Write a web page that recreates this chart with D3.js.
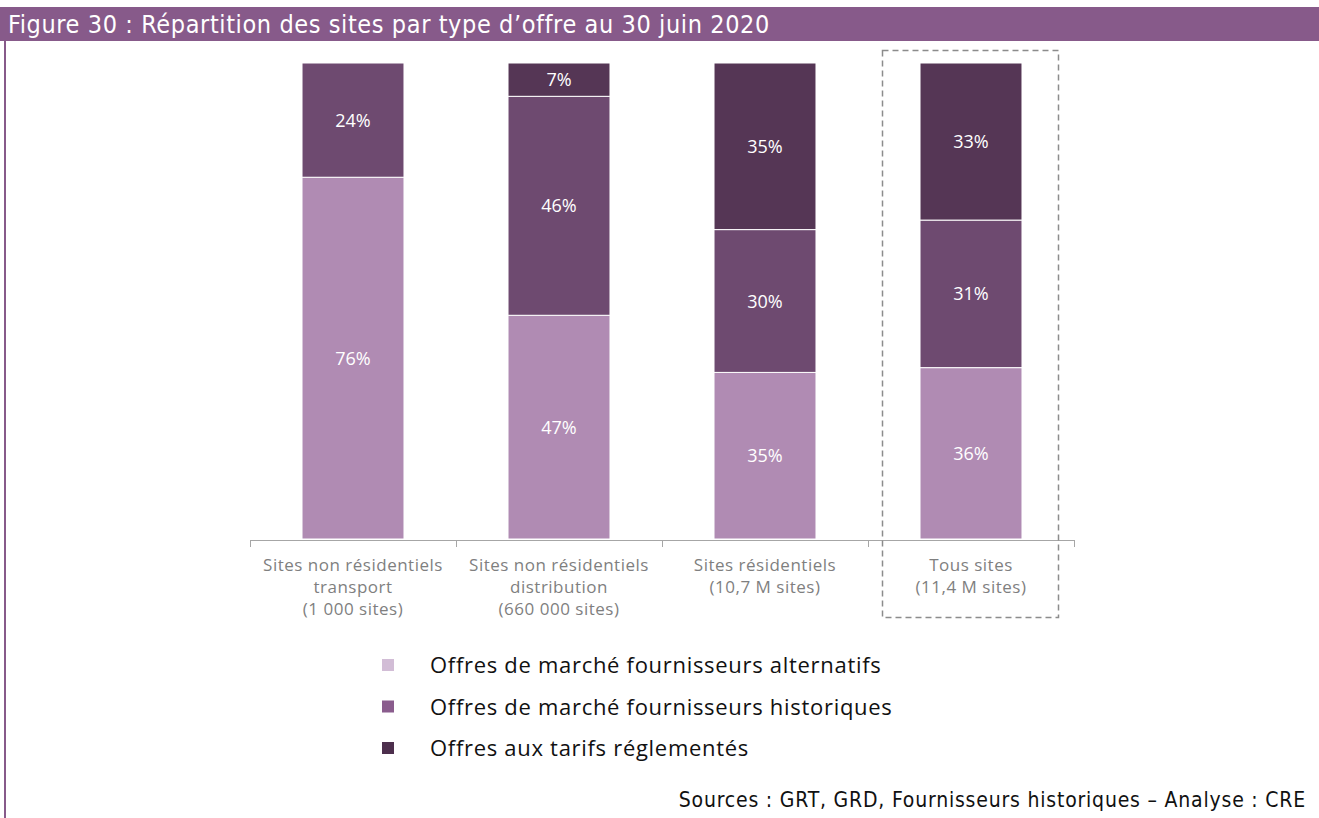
<!DOCTYPE html>
<html><head><meta charset="utf-8">
<script src="https://cdn.jsdelivr.net/npm/d3@7"></script>
<style>body{margin:0;background:#fff}svg{display:block}</style>
</head><body>
<script>
const title = "Figure 30 : Répartition des sites par type d’offre au 30 juin 2020";
const categories = [
  ["Sites non résidentiels","transport","(1 000 sites)"],
  ["Sites non résidentiels","distribution","(660 000 sites)"],
  ["Sites résidentiels","(10,7 M sites)"],
  ["Tous sites","(11,4 M sites)"]
];
const seriesNames = ["Offres de marché fournisseurs alternatifs","Offres de marché fournisseurs historiques","Offres aux tarifs réglementés"];
const alternatifs = [76, 47, 35, 36];
const historiques = [24, 46, 30, 31];
const reglementes = [0, 7, 35, 33];
const source = "Sources : GRT, GRD, Fournisseurs historiques – Analyse : CRE";

const barColors = ["#b08bb3","#6e4a70","#553655"];
const legendColors = ["#d2bdd6","#8a5c8d","#4d2f4d"];
const condensed = "'DejaVu Sans Condensed','DejaVu Sans',sans-serif";
const body = "'Open Sans',sans-serif";

const W=1319,H=818;
const svg=d3.select("body").append("svg").attr("width",W).attr("height",H);
svg.append("rect").attr("x",0).attr("y",7).attr("width",W).attr("height",34).attr("fill","#875a8a");
svg.append("text").attr("x",8).attr("y",33).attr("fill","#fff")
  .style("font-family",condensed).style("font-stretch","condensed").style("font-size","25px")
  .style("letter-spacing","0.6px").text(title);
svg.append("rect").attr("x",4).attr("y",41).attr("width",2).attr("height",H-41).attr("fill","#875a8a");

const x=d3.scaleBand().domain(d3.range(categories.length)).range([250,1074]).paddingInner(0.505).paddingOuter(0.2525);
const y=d3.scaleLinear().domain([0,100]).range([539,63]);

const data=categories.map((c,i)=>({i,alt:alternatifs[i],his:historiques[i],reg:reglementes[i]}));
const stack=d3.stack().keys(["alt","his","reg"])(data);

stack.forEach((s,k)=>{
  svg.append("g").selectAll("rect").data(s).join("rect")
    .attr("x",d=>x(d.data.i)).attr("width",x.bandwidth())
    .attr("y",d=>y(d[1])).attr("height",d=>Math.max(0,y(d[0])-y(d[1])))
    .attr("fill",barColors[k]).attr("stroke",d=>d[1]-d[0]>0?"#fff":"none").attr("stroke-width",1);
  svg.append("g").selectAll("text").data(s.filter(d=>d[1]-d[0]>0)).join("text")
    .attr("x",d=>x(d.data.i)+x.bandwidth()/2).attr("y",d=>(y(d[0])+y(d[1]))/2+6.5)
    .attr("text-anchor","middle").attr("fill","#fff")
    .style("font-family",body).style("font-size","18px")
    .text(d=>(d[1]-d[0])+"%");
});

// axis
const ax=svg.append("g");
ax.append("line").attr("x1",250).attr("x2",1074).attr("y1",540.5).attr("y2",540.5).attr("stroke","#a6a6a6");
const step=x.step();
d3.range(categories.length+1).forEach(i=>{
  const tx=Math.round(250+i*step)+0.5;
  ax.append("line").attr("x1",tx).attr("x2",tx).attr("y1",540).attr("y2",547).attr("stroke","#a6a6a6");
});
categories.forEach((c,i)=>{
  const t=svg.append("text").attr("text-anchor","middle")
    .style("font-family",body).style("font-size","17px").style("letter-spacing","0.5px").attr("fill","#7f7f7f");
  c.forEach((line,j)=>t.append("tspan").attr("x",x(i)+x.bandwidth()/2).attr("y",571+j*22).text(line));
});

// dashed box
svg.append("rect").attr("x",882.5).attr("y",50.5).attr("width",176).attr("height",567)
  .attr("fill","none").attr("stroke","#8c8c8c").attr("stroke-width",1.5).attr("stroke-dasharray","6,4");

// legend
seriesNames.forEach((n,i)=>{
  const ly=659+i*41.5;
  svg.append("rect").attr("x",382).attr("y",ly).attr("width",12).attr("height",12).attr("fill",legendColors[i]);
  svg.append("text").attr("x",430).attr("y",ly+14).attr("fill","#111")
    .style("font-family",body).style("font-size","22px").style("letter-spacing","0.7px").text(n);
});

svg.append("text").attr("x",1306).attr("y",807).attr("text-anchor","end").attr("fill","#111")
  .style("font-family",condensed).style("font-stretch","condensed").style("font-size","21px")
  .style("letter-spacing","0.8px").text(source);
</script>
</body></html>
